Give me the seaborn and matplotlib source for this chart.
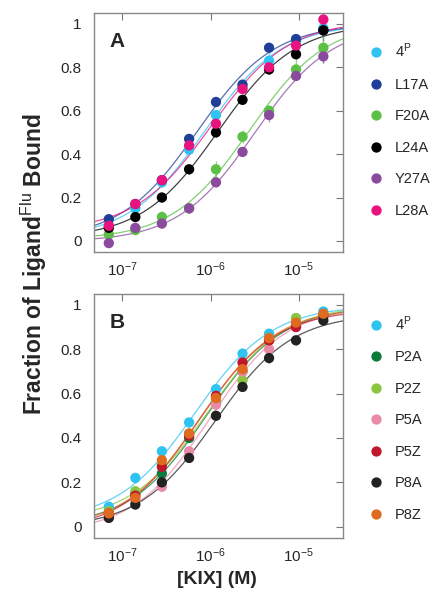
import numpy as np
import pandas as pd
import matplotlib
matplotlib.use("Agg")
import matplotlib.pyplot as plt
import matplotlib.ticker as mticker
import seaborn as sns

# ---- data ----
conc = [7.0e-8, 1.4e-7, 2.8e-7, 5.7e-7, 1.15e-6, 2.3e-6, 4.6e-6, 9.3e-6, 1.9e-5]

names_a = ["4$^{\\rm P}$", "L17A", "F20A", "L24A", "Y27A", "L28A"]
colors_a = ["#2fc3f2", "#1f3f98", "#5cbf46", "#000000", "#8a4b9e", "#e8137f"]
y_4p_a = [0.07, 0.15, 0.27, 0.42, 0.58, 0.71, 0.83, 0.92, 0.98]
y_l17a = [0.10, 0.17, 0.28, 0.47, 0.64, 0.72, 0.89, 0.93, 0.97]
y_f20a = [0.03, 0.05, 0.11, 0.15, 0.33, 0.48, 0.60, 0.79, 0.89]
y_l24a = [0.06, 0.11, 0.20, 0.33, 0.50, 0.65, 0.79, 0.86, 0.97]
y_y27a = [-0.01, 0.06, 0.08, 0.15, 0.27, 0.41, 0.58, 0.76, 0.85]
y_l28a = [0.07, 0.17, 0.28, 0.44, 0.54, 0.70, 0.80, 0.90, 1.02]
err_a = [
    [0.02, 0.02, 0.02, 0.02, 0.02, 0.02, 0.06, 0.02, 0.03],
    [0.02, 0.02, 0.02, 0.02, 0.02, 0.02, 0.02, 0.02, 0.05],
    [0.02, 0.02, 0.03, 0.02, 0.04, 0.03, 0.02, 0.05, 0.07],
    [0.02, 0.02, 0.02, 0.02, 0.02, 0.02, 0.02, 0.02, 0.02],
    [0.02, 0.02, 0.02, 0.02, 0.02, 0.02, 0.03, 0.02, 0.03],
    [0.02, 0.02, 0.02, 0.02, 0.02, 0.02, 0.02, 0.02, 0.03],
]

names_b = ["4$^{\\rm P}$", "P2A", "P2Z", "P5A", "P5Z", "P8A", "P8Z"]
colors_b = ["#2fc3f2", "#0b7a3b", "#8cc63f", "#e98aa7", "#c1172c", "#222222", "#e06a1f"]
y_4p_b = [0.09, 0.22, 0.34, 0.47, 0.62, 0.78, 0.87, 0.94, 0.97]
y_p2a = [0.06, 0.15, 0.24, 0.40, 0.56, 0.70, 0.84, 0.91, 0.95]
y_p2z = [0.07, 0.16, 0.28, 0.42, 0.57, 0.66, 0.85, 0.94, 0.95]
y_p5a = [0.04, 0.12, 0.18, 0.34, 0.55, 0.70, 0.80, 0.90, 0.95]
y_p5z = [0.06, 0.14, 0.27, 0.41, 0.59, 0.74, 0.84, 0.90, 0.95]
y_p8a = [0.04, 0.10, 0.20, 0.31, 0.50, 0.63, 0.76, 0.84, 0.93]
y_p8z = [0.06, 0.13, 0.30, 0.42, 0.58, 0.71, 0.85, 0.92, 0.96]
err_b = [[0.02] * 9 for _ in names_b]
err_b[2][5] = 0.04

ya = [y_4p_a, y_l17a, y_f20a, y_l24a, y_y27a, y_l28a]
yb = [y_4p_b, y_p2a, y_p2z, y_p5a, y_p5z, y_p8a, y_p8z]


def long_df(names, ys, errs):
    rows = []
    for n, y, e in zip(names, ys, errs):
        for c, v, ee in zip(conc, y, e):
            rows.append({"conc": c, "frac": v, "err": ee, "series": n})
    return pd.DataFrame(rows)


def fit_curve(x, y, xs):
    # 1:1 binding fit: grid search on Kd, linear least squares for bottom/top
    x = np.asarray(x)
    y = np.asarray(y)
    best = None
    for kd in np.logspace(-8, -4, 800):
        f = x / (kd + x)
        A = np.column_stack([np.ones_like(f), f])
        coef = np.linalg.lstsq(A, y, rcond=None)[0]
        r = np.sum((A @ coef - y) ** 2)
        if best is None or r < best[0]:
            best = (r, kd, coef)
    _, kd, coef = best
    fs = xs / (kd + xs)
    return coef[0] + coef[1] * fs


sns.set_theme(style="white")
plt.rcParams["font.family"] = ["Liberation Sans", "DejaVu Sans"]
plt.rcParams["mathtext.fontset"] = "custom"
plt.rcParams["mathtext.rm"] = "Liberation Sans"
plt.rcParams["mathtext.it"] = "Liberation Sans:italic"
plt.rcParams["mathtext.bf"] = "Liberation Sans:bold"

fig = plt.figure(figsize=(4.43, 5.91), dpi=100)
ax_a = fig.add_axes([0.213, 0.574, 0.562, 0.404])
ax_b = fig.add_axes([0.213, 0.090, 0.562, 0.413])

xs = np.logspace(np.log10(4.8e-8), np.log10(3.2e-5), 200)

for ax, names, ys, errs, cols, tag, leg_y in [
    (ax_a, names_a, ya, err_a, colors_a, "A", 0.935),
    (ax_b, names_b, yb, err_b, colors_b, "B", 0.97),
]:
    df = long_df(names, ys, errs)
    pal = dict(zip(names, cols))
    # fitted curves
    fits = []
    for n, y in zip(names, ys):
        fits.append(pd.DataFrame({"conc": xs, "frac": fit_curve(conc, y, xs), "series": n}))
    fit_df = pd.concat(fits)
    sns.lineplot(data=fit_df, x="conc", y="frac", hue="series", palette=pal,
                 linewidth=0.9, alpha=0.75, legend=False, ax=ax)
    # error bars
    for n in names:
        sub = df[df["series"] == n]
        ax.errorbar(sub["conc"], sub["frac"], yerr=sub["err"], fmt="none",
                    ecolor=pal[n], elinewidth=1.0, alpha=0.6, capsize=0)
    sns.scatterplot(data=df, x="conc", y="frac", hue="series", palette=pal,
                    s=55, edgecolor="none", ax=ax, zorder=3)
    ax.set_xscale("log")
    ax.set_xlim(4.8e-8, 3.2e-5)
    ax.set_ylim(-0.05, 1.05)
    ax.set_yticks([0, 0.2, 0.4, 0.6, 0.8, 1.0])
    ax.yaxis.set_major_formatter(mticker.FormatStrFormatter("%g"))
    ax.xaxis.set_major_locator(mticker.LogLocator(base=10, numticks=10))
    ax.xaxis.set_minor_locator(mticker.NullLocator())
    ax.tick_params(direction="in", top=True, right=True, length=5, width=0.8,
                   color="#777777", labelsize=11)
    ax.tick_params(axis="y", pad=9)
    ax.tick_params(axis="x", pad=6)
    for sp in ax.spines.values():
        sp.set_color("#888888")
        sp.set_linewidth(1.0)
    ax.set_xlabel("")
    ax.set_ylabel("")
    ax.text(0.06, 0.92, tag, transform=ax.transAxes, fontsize=15,
            fontweight="bold", va="top")
    sns.move_legend(ax, "upper left", bbox_to_anchor=(1.02, leg_y), frameon=False,
                    title=None, fontsize=10.5, handletextpad=0.3, labelspacing=1.2,
                    markerscale=1.0)

fig.text(0.077, 0.553, "Fraction of Ligand$^{\\rm Flu}$ Bound", rotation=90,
         ha="center", va="center", fontsize=16.5, fontweight="bold")
fig.text(0.49, 0.019, "[KIX] (M)", ha="center", va="center",
         fontsize=14, fontweight="bold")

fig.savefig("out.png", dpi=100)
